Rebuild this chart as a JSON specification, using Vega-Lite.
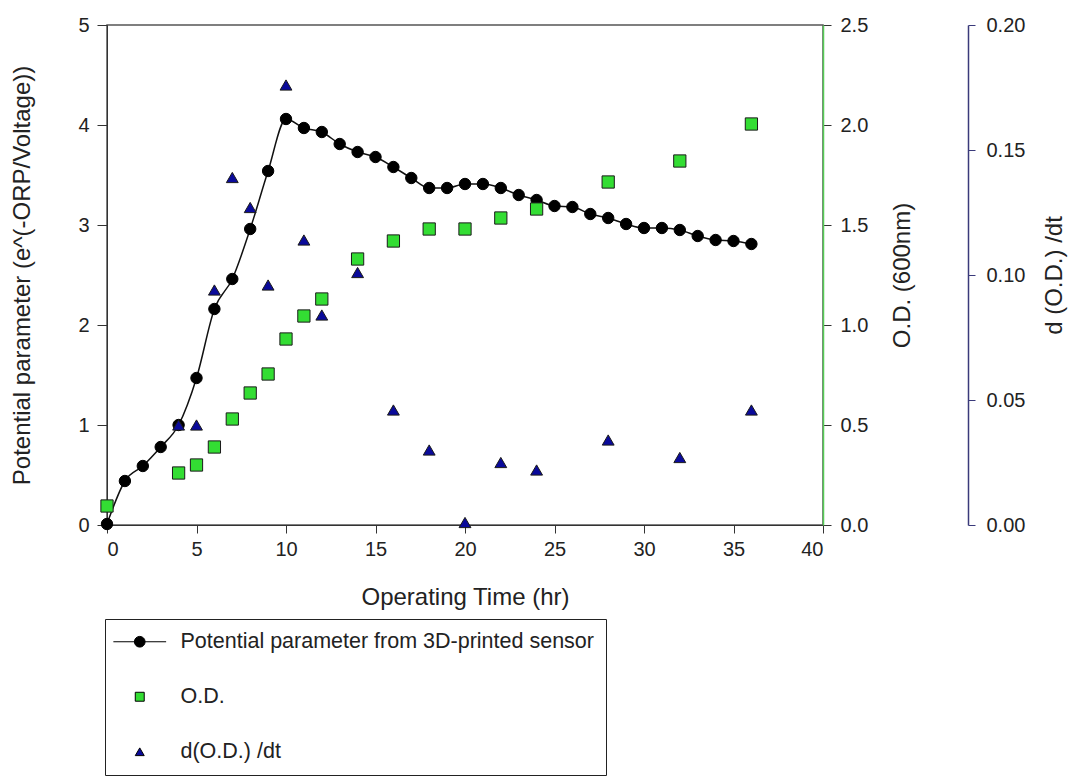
{
  "$schema": "https://vega.github.io/schema/vega-lite/v6.json",
  "width": 716,
  "height": 500,
  "autosize": {"type": "none"},
  "padding": {"left": 107, "top": 25, "right": 247, "bottom": 253},
  "background": "white",
  "config": {
    "font": "Liberation Sans",
    "view": {"stroke": "#555555", "strokeWidth": 1.5},
    "axis": {
      "grid": false,
      "labelFont": "Liberation Sans",
      "titleFont": "Liberation Sans",
      "labelFontSize": 20,
      "titleFontSize": 24,
      "titleFontWeight": "normal",
      "labelColor": "#222222",
      "titleColor": "#222222",
      "tickColor": "#333333",
      "domainColor": "#333333",
      "tickSize": 8,
      "labelPadding": 6
    },
    "legend": {
      "labelFont": "Liberation Sans",
      "labelFontSize": 21.5,
      "labelColor": "#222222",
      "orient": "none",
      "legendX": -2,
      "legendY": 594,
      "strokeColor": "#222222",
      "padding": 12,
      "rowPadding": 32,
      "symbolSize": 80,
      "symbolStrokeColor": "#000000",
      "symbolStrokeWidth": 1,
      "symbolOffset": 12,
      "labelOffset": 30,
      "labelLimit": 700
    }
  },
  "datasets": {
    "pp": [
      {"t": 0, "v": 0.01}, {"t": 1, "v": 0.44}, {"t": 2, "v": 0.59}, {"t": 3, "v": 0.78},
      {"t": 4, "v": 1.0}, {"t": 5, "v": 1.47}, {"t": 6, "v": 2.16}, {"t": 7, "v": 2.46},
      {"t": 8, "v": 2.96}, {"t": 9, "v": 3.54}, {"t": 10, "v": 4.06}, {"t": 11, "v": 3.97},
      {"t": 12, "v": 3.93}, {"t": 13, "v": 3.81}, {"t": 14, "v": 3.73}, {"t": 15, "v": 3.68},
      {"t": 16, "v": 3.58}, {"t": 17, "v": 3.47}, {"t": 18, "v": 3.37}, {"t": 19, "v": 3.37},
      {"t": 20, "v": 3.41}, {"t": 21, "v": 3.41}, {"t": 22, "v": 3.37}, {"t": 23, "v": 3.3},
      {"t": 24, "v": 3.25}, {"t": 25, "v": 3.19}, {"t": 26, "v": 3.18}, {"t": 27, "v": 3.11},
      {"t": 28, "v": 3.07}, {"t": 29, "v": 3.01}, {"t": 30, "v": 2.97}, {"t": 31, "v": 2.97},
      {"t": 32, "v": 2.95}, {"t": 33, "v": 2.89}, {"t": 34, "v": 2.85}, {"t": 35, "v": 2.84},
      {"t": 36, "v": 2.81}
    ],
    "od": [
      {"t": 0, "v": 0.095}, {"t": 4, "v": 0.26}, {"t": 5, "v": 0.3}, {"t": 6, "v": 0.39},
      {"t": 7, "v": 0.53}, {"t": 8, "v": 0.66}, {"t": 9, "v": 0.755}, {"t": 10, "v": 0.93},
      {"t": 11, "v": 1.045}, {"t": 12, "v": 1.13}, {"t": 14, "v": 1.33}, {"t": 16, "v": 1.42},
      {"t": 18, "v": 1.48}, {"t": 20, "v": 1.48}, {"t": 22, "v": 1.535}, {"t": 24, "v": 1.58},
      {"t": 28, "v": 1.715}, {"t": 32, "v": 1.82}, {"t": 36, "v": 2.005}
    ],
    "dod": [
      {"t": 4, "v": 0.04}, {"t": 5, "v": 0.04}, {"t": 6, "v": 0.094}, {"t": 7, "v": 0.139},
      {"t": 8, "v": 0.127}, {"t": 9, "v": 0.096}, {"t": 10, "v": 0.176}, {"t": 11, "v": 0.114},
      {"t": 12, "v": 0.084}, {"t": 14, "v": 0.101}, {"t": 16, "v": 0.046}, {"t": 18, "v": 0.03},
      {"t": 20, "v": 0.001}, {"t": 22, "v": 0.025}, {"t": 24, "v": 0.022}, {"t": 28, "v": 0.034},
      {"t": 32, "v": 0.027}, {"t": 36, "v": 0.046}
    ]
  },
  "layer": [
    {
      "layer": [
        {
          "data": {"name": "pp"},
          "mark": {"type": "line", "color": "#111111", "strokeWidth": 1.5, "interpolate": "monotone"},
          "encoding": {
            "x": {"field": "t", "type": "quantitative"},
            "y": {"field": "v", "type": "quantitative"}
          }
        },
        {
          "data": {"name": "pp"},
          "mark": {"type": "point", "shape": "circle", "filled": true, "size": 130, "stroke": "#000000", "strokeWidth": 1, "opacity": 1},
          "encoding": {
            "x": {
              "field": "t", "type": "quantitative",
              "scale": {"domain": [0, 40], "nice": false, "zero": true},
              "axis": {"values": [0, 5, 10, 15, 20, 25, 30, 35, 40], "title": "Operating Time (hr)", "labelPadding": 6, "titlePadding": 26, "tickSize": 8}
            },
            "y": {
              "field": "v", "type": "quantitative",
              "scale": {"domain": [0, 5], "nice": false},
              "axis": {"orient": "left", "values": [0, 1, 2, 3, 4, 5], "format": "d", "title": "Potential parameter (e^(-ORP/Voltage))", "tickSize": 10, "labelPadding": 8, "titlePadding": 43}
            },
            "fill": {
              "datum": "Potential parameter from 3D-printed sensor",
              "type": "nominal",
              "scale": {
                "domain": ["Potential parameter from 3D-printed sensor", "O.D.", "d(O.D.) /dt"],
                "range": ["#000000", "#33dd33", "#0a0a9a"]
              },
              "legend": {"title": null}
            }
          }
        }
      ]
    },
    {
      "data": {"name": "od"},
      "mark": {"type": "point", "filled": true, "size": 150, "stroke": "#1a1a1a", "strokeWidth": 1, "opacity": 1},
      "encoding": {
        "x": {"field": "t", "type": "quantitative"},
        "y": {
          "field": "v", "type": "quantitative",
          "scale": {"domain": [0, 2.5], "nice": false},
          "axis": {"orient": "right", "values": [0, 0.5, 1, 1.5, 2, 2.5], "format": ".1f", "title": "O.D. (600nm)", "titleAngle": 270, "domainColor": "#55cc55", "domainWidth": 1.5, "labelPadding": 9, "titlePadding": 47, "zindex": 1}
        },
        "fill": {"datum": "O.D.", "type": "nominal"},
        "shape": {
          "datum": "O.D.",
          "type": "nominal",
          "scale": {
            "domain": ["Potential parameter from 3D-printed sensor", "O.D.", "d(O.D.) /dt"],
            "range": ["M-5.9,0H5.9M-1.2,0A1.2,1.2 0 1,0 1.2,0A1.2,1.2 0 1,0 -1.2,0Z", "square", "triangle-up"]
          },
          "legend": {"title": null}
        }
      }
    },
    {
      "data": {"name": "dod"},
      "mark": {"type": "point", "filled": true, "size": 140, "stroke": "#1a1a1a", "strokeWidth": 1, "opacity": 1},
      "encoding": {
        "x": {"field": "t", "type": "quantitative"},
        "y": {
          "field": "v", "type": "quantitative",
          "scale": {"domain": [0, 0.2], "nice": false},
          "axis": {"orient": "right", "offset": 145, "values": [0, 0.05, 0.1, 0.15, 0.2], "format": ".2f", "title": "d (O.D.) /dt", "titleAngle": 270, "domainColor": "#3a3a7a", "tickColor": "#3a3a7a", "domainWidth": 1.5, "tickSize": 7, "labelPadding": 11, "titlePadding": 42}
        },
        "fill": {"datum": "d(O.D.) /dt", "type": "nominal"},
        "shape": {"datum": "d(O.D.) /dt", "type": "nominal"}
      }
    }
  ],
  "resolve": {"scale": {"y": "independent"}}
}
